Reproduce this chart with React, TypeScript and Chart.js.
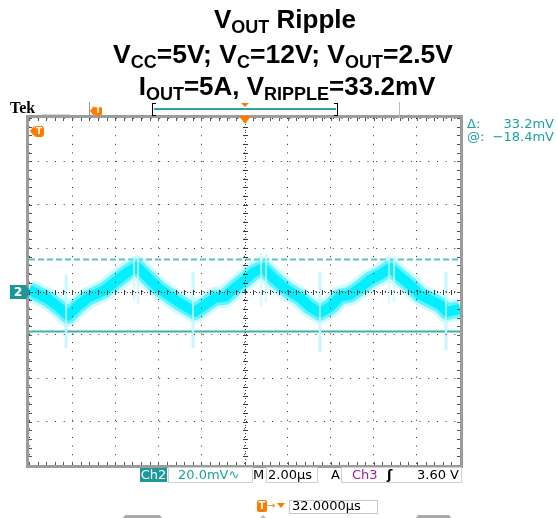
import React, { useEffect, useRef } from 'react';
import { Chart, registerables } from 'chart.js';

Chart.register(...registerables);

// ---- data ----
const X_MIN_US = 0;
const X_MAX_US = 20; // 10 div x 2.00 us
const X_STEP_US = 2;
const Y_MIN_MV = -80; // 8 div x 20.0 mV
const Y_MAX_MV = 80;
const Y_STEP_MV = 20;

const timeUs = [0, 0.88, 1.48, 1.81, 2.27, 2.74, 3.06, 3.53, 4.0, 4.59, 5.01, 5.52, 5.99, 6.45, 6.91, 7.38, 7.7, 8.17, 8.63, 9.1, 9.56, 10.02, 10.39, 10.86, 11.32, 11.97, 12.58, 13.04, 13.5, 13.97, 14.43, 14.9, 15.36, 15.82, 16.29, 16.75, 17.22, 17.68, 18.14, 18.61, 19.07, 19.4, 20.0];
const rippleMv = [0.8, -3.4, -8.0, -11.2, -6.6, -2.9, -1.5, 0.8, 4.5, 9.1, 11.4, 6.3, 1.7, -1.5, -4.7, -7.5, -9.4, -6.1, -2.9, -2.4, 1.7, 5.4, 8.6, 10.9, 6.3, 0.8, -2.9, -7.1, -9.8, -7.1, -2.4, -1.5, 1.7, 5.4, 7.7, 10.9, 6.8, 3.1, -1.5, -3.8, -6.1, -9.4, -8.0];

const valleySpikeUs = [1.72, 7.61, 13.5, 19.35];
const valleySpikeTopMv = [7.7, 9.1, 9.1, 9.1];
const valleySpikeBottomMv = [-26, -26, -28, -27];
const valleySpikeCoreBottomMv = [-20, -20, -21, -20];

const peakSpikeUs = [4.87, 5.06, 10.77, 11.0, 16.71, 16.94];
const peakSpikeTopMv = [16.5, 17, 18, 17.5, 17, 16.5];
const peakSpikeBottomMv = [-4, -6, -7, -5, -6, -5];

const cursorUpperMv = 14.8; // delta 33.2 mV
const cursorLowerMv = -18.4;

const spikeData = (xs: number[], tops: number[], bottoms: number[]) => {
  const out: { x: number; y: number | null }[] = [];
  xs.forEach((x, i) => {
    out.push({ x, y: tops[i] });
    out.push({ x, y: bottoms[i] });
    out.push({ x, y: null });
  });
  return out;
};

const scopePlugin = {
  id: 'scopeFrame',
  afterDraw(chart: any) {
    const { ctx, chartArea: a, scales } = chart;
    const xs = scales.x;
    const ys = scales.y;
    const xc = Math.round(xs.getPixelForValue((X_MIN_US + X_MAX_US) / 2));
    const yc = Math.round(ys.getPixelForValue(0));
    const subX = (xs.getPixelForValue(X_STEP_US) - xs.getPixelForValue(0)) / 5;
    const subY = (ys.getPixelForValue(0) - ys.getPixelForValue(Y_STEP_MV)) / 5;
    ctx.save();
    // centre crosshair: dense dots + small ticks
    ctx.fillStyle = '#3a3a3a';
    for (let x = a.left; x <= a.right; x += subX / 3) ctx.fillRect(Math.round(x), yc, 1, 1);
    for (let y = a.top; y <= a.bottom; y += subY / 3) ctx.fillRect(xc, Math.round(y), 1, 1);
    for (let x = a.left; x <= a.right + 0.5; x += subX) ctx.fillRect(Math.round(x), yc - 2, 1, 5);
    for (let y = a.top; y <= a.bottom + 0.5; y += subY) ctx.fillRect(xc - 2, Math.round(y), 5, 1);
    // rulers on the border
    ctx.fillStyle = '#555';
    for (let x = a.left; x <= a.right + 0.5; x += subX) {
      ctx.fillRect(Math.round(x), Math.round(a.top), 1, 3);
      ctx.fillRect(Math.round(x), Math.round(a.bottom) - 3, 1, 3);
    }
    for (let y = a.top; y <= a.bottom + 0.5; y += subY) {
      ctx.fillRect(Math.round(a.left), Math.round(y), 3, 1);
      ctx.fillRect(Math.round(a.right) - 3, Math.round(y), 3, 1);
    }
    // frame
    ctx.strokeStyle = '#9c9c9c';
    ctx.lineWidth = 3;
    ctx.strokeRect(a.left - 1.5, a.top - 1.5, a.right - a.left + 3, a.bottom - a.top + 3);
    ctx.restore();
  },
};

const Sub = ({ children, size = 18 }: { children: any; size?: number }) => (
  <span style={{ fontSize: size, position: 'relative', top: 5 }}>{children}</span>
);

const abs = (left: number, top: number, extra: any = {}) => ({ position: 'absolute' as const, left, top, ...extra });

const OrangeTag = ({ left, top, w = 11, h = 11 }: { left: number; top: number; w?: number; h?: number }) => (
  <div style={abs(left, top, { width: w + 4, height: h })}>
    <div style={abs(0, 0, { width: 0, height: 0, borderTop: `${h / 2}px solid transparent`, borderBottom: `${h / 2}px solid transparent`, borderRight: '4px solid #ff7a00' })} />
    <div style={abs(4, 0, { width: w, height: h, background: '#ff7a00', borderRadius: 3, color: '#fff', fontFamily: 'DejaVu Sans', fontWeight: 'bold', fontSize: h - 2, lineHeight: `${h}px`, textAlign: 'center' })}>T</div>
  </div>
);

export default function App() {
  const ref = useRef<HTMLCanvasElement>(null);
  useEffect(() => {
    const band = timeUs.map((t, i) => ({ x: t, y: rippleMv[i] }));
    const chart = new Chart(ref.current as HTMLCanvasElement, {
      type: 'line',
      data: {
        datasets: [
          {
            data: spikeData(valleySpikeUs, valleySpikeTopMv, valleySpikeCoreBottomMv).concat(spikeData(peakSpikeUs, peakSpikeTopMv, peakSpikeBottomMv)),
            borderColor: 'rgba(200,250,255,0.8)', borderWidth: 2, pointRadius: 0, spanGaps: false, order: 1,
          },
          {
            data: band, borderColor: 'rgba(0,238,255,0.95)', borderWidth: 10, pointRadius: 0, borderJoinStyle: 'round', order: 2,
          },
          {
            data: band, borderColor: 'rgba(30,236,255,0.6)', borderWidth: 16, pointRadius: 0, borderJoinStyle: 'round', order: 3,
          },
          {
            data: spikeData(valleySpikeUs, valleySpikeTopMv, valleySpikeBottomMv),
            borderColor: 'rgba(150,238,255,0.55)', borderWidth: 3, pointRadius: 0, spanGaps: false, order: 4,
          },
          {
            data: band, borderColor: 'rgba(120,240,255,0.35)', borderWidth: 22, pointRadius: 0, borderJoinStyle: 'round', order: 5,
          },
          {
            data: [{ x: X_MIN_US, y: cursorUpperMv }, { x: X_MAX_US, y: cursorUpperMv }],
            borderColor: '#5cc4c4', borderWidth: 2, borderDash: [6, 3], pointRadius: 0, order: 6,
          },
          {
            data: [{ x: X_MIN_US, y: cursorLowerMv }, { x: X_MAX_US, y: cursorLowerMv }],
            borderColor: '#3fb0a8', borderWidth: 2, pointRadius: 0, order: 6,
          },
        ] as any,
      },
      options: {
        animation: false,
        responsive: false,
        maintainAspectRatio: false,
        layout: { padding: { left: 29, right: 98, top: 118, bottom: 53 } },
        plugins: { legend: { display: false }, tooltip: { enabled: false } },
        scales: {
          x: {
            type: 'linear', min: X_MIN_US, max: X_MAX_US,
            ticks: { display: false, stepSize: X_STEP_US },
            grid: { color: '#2a2a2a', lineWidth: 1, drawTicks: false, z: 1 },
            border: { display: false, dash: [1, 7.62] },
          },
          y: {
            type: 'linear', min: Y_MIN_MV, max: Y_MAX_MV,
            ticks: { display: false, stepSize: Y_STEP_MV },
            grid: { color: '#2a2a2a', lineWidth: 1, drawTicks: false, z: 1 },
            border: { display: false, dash: [1, 7.68] },
          },
        },
      } as any,
      plugins: [scopePlugin],
    });
    return () => chart.destroy();
  }, []);

  const titleFont = { fontFamily: '"Liberation Sans", Arial, sans-serif', fontWeight: 'bold' as const, fontSize: 26, lineHeight: '30px', color: '#000', textAlign: 'center' as const, width: 570, whiteSpace: 'nowrap' as const };
  const scopeFont = { fontFamily: '"DejaVu Sans", sans-serif', fontSize: 13, lineHeight: '14px', whiteSpace: 'nowrap' as const };
  const teal = '#1aa3a3';

  return (
    <div style={{ position: 'absolute', left: 0, top: 0, width: 558, height: 518, overflow: 'hidden', background: '#fff' }}>
      <canvas ref={ref} width={558} height={518} style={{ position: 'absolute', left: 0, top: 0, width: 558, height: 518 }} />

      {/* title */}
      <div style={abs(0, 4, titleFont)}>V<Sub>OUT</Sub> Ripple</div>
      <div style={abs(-2, 39, { ...titleFont, fontSize: 26.5 })}>V<Sub>CC</Sub>=5V; V<Sub>C</Sub>=12V; V<Sub>OUT</Sub>=2.5V</div>
      <div style={abs(2, 71, titleFont)}>I<Sub>OUT</Sub>=5A, V<Sub>RIPPLE</Sub>=33.2mV</div>

      {/* top strip */}
      <div style={abs(10, 100, { fontFamily: '"Liberation Serif", serif', fontWeight: 'bold', fontSize: 16, lineHeight: '16px', color: '#000' })}>Tek</div>
      <div style={abs(42, 114, { width: 28, height: 1, background: '#d8d8d8' })} />
      <div style={abs(89, 102, { width: 1, height: 16, background: '#999' })} />
      <OrangeTag left={90} top={106} w={8} h={10} />
      <div style={abs(152, 103, { width: 3, height: 11, borderLeft: '1px solid #000', borderTop: '1px solid #000', borderBottom: '1px solid #000' })} />
      <div style={abs(154, 108, { width: 182, height: 2, background: '#2aa3a3' })} />
      <div style={abs(334, 103, { width: 3, height: 11, borderRight: '1px solid #000', borderTop: '1px solid #000', borderBottom: '1px solid #000' })} />
      <div style={abs(241, 103, { width: 0, height: 0, borderLeft: '4px solid transparent', borderRight: '4px solid transparent', borderTop: '4px solid #ff7a00' })} />
      <div style={abs(399, 102, { width: 1, height: 16, background: '#bbb' })} />
      <div style={abs(239, 116, { width: 0, height: 0, borderLeft: '6px solid transparent', borderRight: '6px solid transparent', borderTop: '8px solid #ff7a00' })} />
      <OrangeTag left={30} top={126} w={10} h={11} />

      {/* cursor readouts */}
      <div style={abs(467, 117, { ...scopeFont, fontSize: 13, lineHeight: '13px', color: teal, width: 87, display: 'flex', justifyContent: 'space-between' })}><span>Δ:</span><span>33.2mV</span></div>
      <div style={abs(467, 130, { ...scopeFont, fontSize: 13, lineHeight: '13px', color: teal, width: 87, display: 'flex', justifyContent: 'space-between' })}><span>@:</span><span>−18.4mV</span></div>

      {/* channel 2 ground marker */}
      <div style={abs(10, 285, { width: 16, height: 14, background: '#1a9898', color: '#fff', fontFamily: '"DejaVu Sans", sans-serif', fontWeight: 'bold', fontSize: 12, lineHeight: '14px', textAlign: 'center' })}>2</div>
      <div style={abs(26, 285, { width: 0, height: 0, borderTop: '7px solid transparent', borderBottom: '7px solid transparent', borderLeft: '4px solid #1a9898' })} />

      {/* status bar */}
      <div style={abs(140, 468, { ...scopeFont, width: 27, height: 14, background: '#1b9a9a', color: '#fff', textAlign: 'center' })}>Ch2</div>
      <div style={abs(168, 467, { width: 83, height: 14, border: '1px solid #d0d0d0' })} />
      <div style={abs(178, 468, { ...scopeFont, color: teal })}>20.0mV∿</div>
      <div style={abs(253, 468, { ...scopeFont, color: '#000' })}>M</div>
      <div style={abs(266, 467, { width: 50, height: 14, border: '1px solid #d0d0d0' })} />
      <div style={abs(268, 468, { ...scopeFont, color: '#000' })}>2.00µs</div>
      <div style={abs(331, 468, { ...scopeFont, color: '#000' })}>A</div>
      <div style={abs(341, 467, { width: 119, height: 14, border: '1px solid #d0d0d0' })} />
      <div style={abs(352, 468, { ...scopeFont, color: '#a01aa6' })}>Ch3</div>
      <div style={abs(387, 468, { ...scopeFont, color: '#000', fontWeight: 'bold' })}>ʃ</div>
      <div style={abs(400, 468, { ...scopeFont, color: '#000', width: 59, textAlign: 'right' })}>3.60 V</div>

      {/* trigger position */}
      <div style={abs(257, 500, { width: 10, height: 12, background: '#ff7a00', borderRadius: 2, color: '#fff', fontFamily: '"DejaVu Sans", sans-serif', fontWeight: 'bold', fontSize: 10, lineHeight: '12px', textAlign: 'center' })}>T</div>
      <div style={abs(267, 499, { ...scopeFont, color: '#ff7a00', fontSize: 10, lineHeight: '14px' })}>→</div>
      <div style={abs(277, 503, { width: 0, height: 0, borderLeft: '4px solid transparent', borderRight: '4px solid transparent', borderTop: '5px solid #ff7a00' })} />
      <div style={abs(289, 500, { width: 87, height: 12, border: '1px solid #c8c8c8' })} />
      <div style={abs(292, 499, { ...scopeFont, color: '#000' })}>32.0000µs</div>

      {/* bottom tabs */}
      <div style={abs(122, 515, { width: 41, height: 4, background: '#aaa', clipPath: 'polygon(8% 0, 92% 0, 100% 100%, 0 100%)' })} />
      <div style={abs(415, 515, { width: 37, height: 4, background: '#aaa', clipPath: 'polygon(8% 0, 92% 0, 100% 100%, 0 100%)' })} />
      <div style={abs(260, 515, { width: 0, height: 0, borderLeft: '3px solid transparent', borderRight: '3px solid transparent', borderBottom: '3px solid #bbb' })} />
    </div>
  );
}
